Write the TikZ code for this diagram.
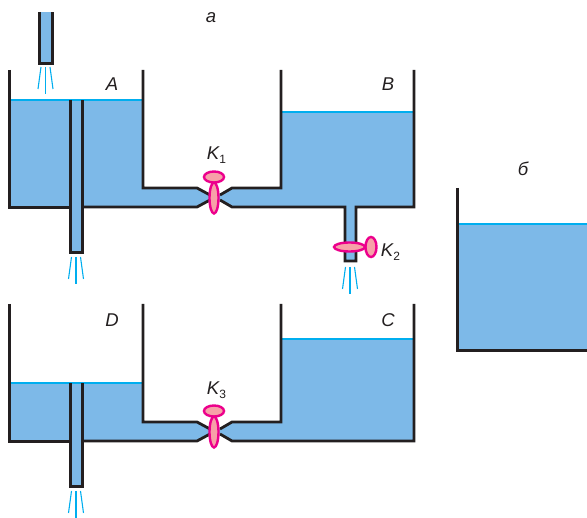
\documentclass[tikz,border=0pt]{standalone}
\usepackage{fontspec}
\setmainfont{Liberation Sans}
\usetikzlibrary{shapes.geometric}
\definecolor{water}{HTML}{7DB9E8}
\definecolor{levelc}{HTML}{00AEEF}
\definecolor{wallc}{HTML}{231F20}
\definecolor{valvec}{HTML}{EC008C}
\definecolor{valvef}{HTML}{F7A1A8}
\newcommand{\subidx}[1]{\raisebox{-4.5pt}{\upshape\fontsize{12}{12}\selectfont #1}}
\tikzset{
  wall/.style={draw=wallc,line width=2.8pt,line join=miter},
  level/.style={draw=levelc,line width=1.5pt},
  spray/.style={draw=levelc,line width=1.1pt},
  valve/.style={ellipse,draw=valvec,fill=valvef,line width=2.4pt,inner sep=0pt},
  lab/.style={font=\itshape\fontsize{18.5}{18.5}\selectfont,text=wallc,inner sep=0pt}
}
\begin{document}
\begin{tikzpicture}[x=1pt,y=-1pt]
    \useasboundingbox (0,0) rectangle (587,518);
    % water
    \fill [water] (39,12) rectangle (52,63);
    \fill [water] (9,100) -- (143,100) -- (143,188) -- (197,188) -- (210,195) -- (220,195) -- (232,188) -- (281,188) -- (281,112) -- (414,112) -- (414,207) -- (356,207) -- (356,261) -- (345,261) -- (345,207) -- (232,207) -- (220,200) -- (210,200) -- (197,207) -- (82,207) -- (82,252) -- (70,252) -- (70,207) -- (9,207) -- cycle;
    \fill [water] (9,383) -- (143,383) -- (143,422) -- (197,422) -- (210,429) -- (220,429) -- (232,422) -- (281,422) -- (281,339) -- (414,339) -- (414,441) -- (232,441) -- (220,434) -- (210,434) -- (197,441) -- (82,441) -- (82,486) -- (70,486) -- (70,441) -- (9,441) -- cycle;
    \fill [water] (457,224) rectangle (587,350);
    % levels
    \draw [level] (9,100) -- (143,100);
    \draw [level] (281,112) -- (414,112);
    \draw [level] (9,383) -- (143,383);
    \draw [level] (281,339) -- (414,339);
    \draw [level] (457,224) -- (587,224);
    % walls
    \draw [wall] (39.5,12) -- (39.5,63.5) -- (52.5,63.5) -- (52.5,12);
    \draw [wall] (9.5,70) -- (9.5,207.5) -- (70,207.5);
    \draw [wall] (82,207) -- (197,207) -- (210,200);
    \draw [wall] (143,70) -- (143,188) -- (197,188) -- (210,195);
    \draw [wall] (70.5,100) -- (70.5,252.5) -- (82.5,252.5) -- (82.5,100);
    \draw [wall] (220,195) -- (232,188) -- (281,188) -- (281,70);
    \draw [wall] (220,200) -- (232,207) -- (345,207) -- (345,261) -- (356,261) -- (356,207) -- (414,207) -- (414,70);
    \draw [wall] (9.5,304) -- (9.5,441.5) -- (70,441.5);
    \draw [wall] (82,441) -- (197,441) -- (210,434);
    \draw [wall] (143,304) -- (143,422) -- (197,422) -- (210,429);
    \draw [wall] (70.5,383) -- (70.5,486.5) -- (82.5,486.5) -- (82.5,383);
    \draw [wall] (220,429) -- (232,422) -- (281,422) -- (281,304);
    \draw [wall] (220,434) -- (232,441) -- (414,441) -- (414,304);
    \draw [wall] (457.5,188) -- (457.5,350.5) -- (587,350.5);
    % sprays
    \foreach \sx/\sy in {45.5/67, 76/257, 350/267, 76/491} {
      \draw [spray] (\sx-4.5,\sy) -- (\sx-7.5,\sy+22);
      \draw [spray] (\sx,\sy) -- (\sx,\sy+27);
      \draw [spray] (\sx+4.5,\sy) -- (\sx+7.5,\sy+22);
    }
    % valves
    \node (stem1) [valve,minimum width=9pt,minimum height=31pt] at (214,198) {};
    \node (knob1) [valve,minimum width=20pt,minimum height=11pt] at (214,177) {};
    \node (stem2) [valve,minimum width=31pt,minimum height=9pt] at (349.5,247) {};
    \node (knob2) [valve,minimum width=11pt,minimum height=20pt] at (371,247) {};
    \node (stem3) [valve,minimum width=9pt,minimum height=31pt] at (214,432) {};
    \node (knob3) [valve,minimum width=20pt,minimum height=11pt] at (214,411) {};
    % labels
    \node (a) [lab] at (211,18) {а};
    \node (b) [lab] at (523,169) {б};
    \node (tA) [lab] at (112,84) {A};
    \node (tB) [lab] at (388,84) {B};
    \node (tC) [lab] at (388,320) {C};
    \node (tD) [lab] at (112,320) {D};
    \node (k1) [lab] at (216.5,155) {K\subidx{1}};
    \node (k2) [lab] at (390.5,252) {K\subidx{2}};
    \node (k3) [lab] at (216.5,390) {K\subidx{3}};
\end{tikzpicture}
\end{document}
